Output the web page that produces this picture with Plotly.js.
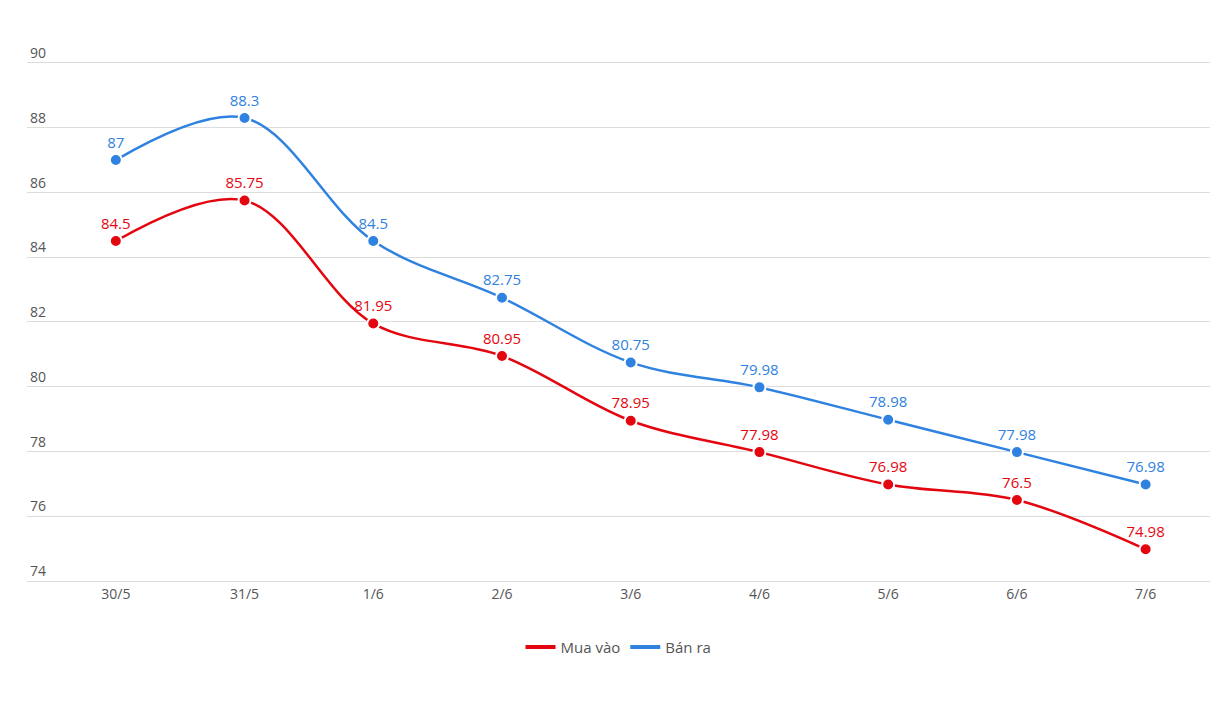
<!DOCTYPE html>
<html>
<head>
<meta charset="utf-8">
<script src="https://cdn.plot.ly/plotly-3.0.1.min.js"></script>
<style>html,body{margin:0;padding:0;background:#fff;}#chart{width:1217px;height:712px;}</style>
</head>
<body>
<div id="chart"></div>
<script>
const categories = ["30/5","31/5","1/6","2/6","3/6","4/6","5/6","6/6","7/6"];
const muaVao = [84.5, 85.75, 81.95, 80.95, 78.95, 77.98, 76.98, 76.5, 74.98];
const banRa = [87, 88.3, 84.5, 82.75, 80.75, 79.98, 78.98, 77.98, 76.98];
const yTicks = [74, 76, 78, 80, 82, 84, 86, 88, 90];
const seriesNames = ["Mua vào", "Bán ra"];

const red = "#e3060f";
const blue = "#2f82e0";

function series(name, vals, color) {
  return {
    type: "scatter",
    mode: "lines+markers+text",
    name: name,
    showlegend: false,
    x: categories,
    y: vals,
    text: vals.map(String),
    textposition: "top center",
    textfont: {family: "Open Sans, sans-serif", size: 15, color: color},
    line: {color: color, width: 2.5, shape: "spline", smoothing: 1},
    marker: {color: color, size: 12, line: {color: "#fff", width: 2}},
    cliponaxis: false,
    hoverinfo: "x+y"
  };
}
function legendItem(name, color) {
  return {type: "scatter", mode: "lines", name: name, x: [null], y: [null],
    line: {color: color, width: 4}, showlegend: true};
}

const data = [
  series(seriesNames[0], muaVao, red),
  series(seriesNames[1], banRa, blue),
  legendItem(seriesNames[0], red),
  legendItem(seriesNames[1], blue)
];

const layout = {
  width: 1217, height: 712,
  margin: {l: 27, r: 7, t: 37, b: 131},
  paper_bgcolor: "#fff", plot_bgcolor: "#fff",
  showlegend: true,
  legend: {orientation: "h", x: 0.5, xanchor: "center", y: -0.122, yanchor: "middle",
    font: {family: "Open Sans, sans-serif", size: 15, color: "#555"}},
  xaxis: {type: "category", range: [-0.69, 8.5], showgrid: false, zeroline: false,
    showline: true, linecolor: "#dcdcdc", linewidth: 1, ticks: "",
    tickfont: {family: "Open Sans, sans-serif", size: 14, color: "#555"}},
  yaxis: {range: [74, 90.8], tickvals: yTicks, ticktext: yTicks.map(String),
    showgrid: true, gridcolor: "#dcdcdc", gridwidth: 1, zeroline: false, showline: false,
    ticklabelposition: "inside top",
    tickfont: {family: "Open Sans, sans-serif", size: 14, color: "#555"}}
};

Plotly.newPlot("chart", data, layout, {displayModeBar: false, staticPlot: true});
</script>
</body>
</html>
